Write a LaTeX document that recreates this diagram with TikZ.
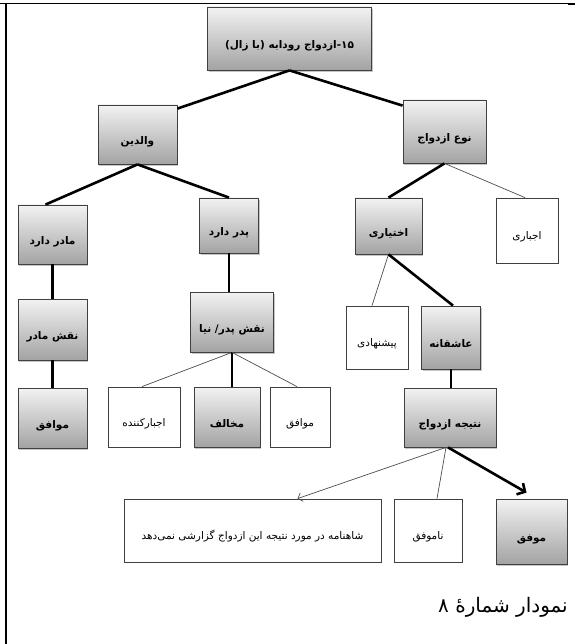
\documentclass[tikz,border=0pt]{standalone}
\usepackage{fontspec}
\usetikzlibrary{arrows.meta,shadows,calc}
\TeXXeTstate=1
\newfontfamily\fa[Script=Arabic]{DejaVu Sans}
\newcommand\rtl[1]{{\fa\beginR #1\endR}}
\tikzset{
  graybox/.style={draw=black!75, line width=0.8pt, top color=black!5, bottom color=black!36,
    drop shadow={shadow xshift=1.2pt, shadow yshift=-1.8pt, opacity=0.45},
    font=\fa\bfseries\fontsize{10.5}{12}\selectfont, inner sep=1pt, text height=20pt, text depth=0pt},
  whitebox/.style={draw=black!75, line width=0.8pt, fill=white,
    drop shadow={shadow xshift=0.8pt, shadow yshift=-1.2pt, opacity=0.15},
    font=\fa\fontsize{10.5}{12}\selectfont, inner sep=1pt, text height=18pt, text depth=0pt},
  thicklink/.style={line width=2.6pt, black},
  thinlink/.style={line width=0.7pt, black!70},
}
\begin{document}
\begin{tikzpicture}[x=1pt,y=-1pt]
\useasboundingbox (0,0) rectangle (575,644);
% page frame lines
\draw[line width=1.2pt] (0,3.5) -- (575,3.5);
\draw[line width=2pt] (5.5,3) -- (5.5,644);
\draw[line width=2.5pt] (568,4) -- (575,4);

\node[graybox, minimum width=164pt, minimum height=63pt] (root) at (289.5,38.5)
  {\rtl{۱۵-ازدواج رودابه (با زال)}};
\node[graybox, minimum width=79pt, minimum height=59pt] (walidin) at (137.5,134.5) {\rtl{والدین}};
\node[graybox, minimum width=83pt, minimum height=63pt] (now) at (444.5,131.5) {\rtl{نوع ازدواج}};
\node[graybox, minimum width=69pt, minimum height=59pt] (madar) at (52.5,234.5) {\rtl{مادر دارد}};
\node[graybox, minimum width=59pt, minimum height=55pt] (pedar) at (229,225.5) {\rtl{پدر دارد}};
\node[graybox, minimum width=67pt, minimum height=56pt] (ekhtiari) at (388.5,226) {\rtl{اختیاری}};
\node[whitebox, minimum width=62pt, minimum height=65pt] (ejbari) at (527,230.5) {\rtl{اجباری}};
\node[graybox, minimum width=69pt, minimum height=61pt] (naqshmadar) at (52.5,329.5) {\rtl{نقش مادر}};
\node[graybox, minimum width=83pt, minimum height=60pt] (naqshpedar) at (232,322) {\rtl{نقش پدر/ نیا}};
\node[whitebox, minimum width=62pt, minimum height=63pt] (pishnahadi) at (377,337.5) {\rtl{پیشنهادی}};
\node[graybox, minimum width=59pt, minimum height=63pt] (asheqane) at (451,337.5) {\rtl{عاشقانه}};
\node[graybox, minimum width=69pt, minimum height=60pt] (movafeqA) at (52.5,418) {\rtl{موافق}};
\node[whitebox, minimum width=72pt, minimum height=60pt] (ejbarkonande) at (144,417) {\rtl{اجبارکننده}};
\node[graybox, minimum width=66pt, minimum height=60pt] (mokhalef) at (227,417) {\rtl{مخالف}};
\node[whitebox, minimum width=60pt, minimum height=60pt] (movafeqB) at (300,417) {\rtl{موافق}};
\node[graybox, minimum width=92pt, minimum height=59pt] (natije) at (450,417.5) {\rtl{نتیجه ازدواج}};
\node[whitebox, minimum width=257pt, minimum height=63pt] (shahname) at (252.5,530.5)
  {\rtl{شاهنامه در مورد نتیجه این ازدواج گزارشی نمی‌دهد}};
\node[whitebox, minimum width=68pt, minimum height=63pt] (namovafeq) at (428,530.5) {\rtl{ناموفق}};
\node[graybox, minimum width=71pt, minimum height=65pt] (movafeqC) at (531.5,531.5) {\rtl{موفق}};

\node[anchor=base east, inner sep=0pt, font=\fa\fontsize{20}{24}\selectfont] (caption) at (568,612)
  {\rtl{نمودار شمارهٔ ۸}};

% connectors
\draw[thicklink] (root.south) -- ($(walidin.north east)+(0,4)$);
\draw[thicklink] (root.south) -- ($(now.north west)+(0,6)$);
\draw[thicklink] (walidin.south) -- ($(madar.north)+(-7,0)$);
\draw[thicklink] (walidin.south) -- (pedar.north);
\draw[thicklink] (now.south) -- (ekhtiari.north);
\draw[thinlink] (now.south) -- ($(ejbari.north)+(-2,0)$);
\draw[thicklink] (madar.south) -- (naqshmadar.north);
\draw[thicklink] (naqshmadar.south) -- (movafeqA.north);
\draw[thicklink] (pedar.south) -- (pedar.south |- naqshpedar.north);
\draw[thinlink] (naqshpedar.south) -- ($(ejbarkonande.north)+(-2,0)$);
\draw[thicklink] (naqshpedar.south) -- (naqshpedar.south |- mokhalef.north);
\draw[thinlink] (naqshpedar.south) -- ($(movafeqB.north)+(-3,0)$);
\draw[thinlink] (ekhtiari.south) -- ($(pishnahadi.north)+(-5,0)$);
\draw[thicklink] (ekhtiari.south) -- ($(asheqane.north)+(2,0)$);
\draw[thicklink] (asheqane.south) -- (asheqane.south |- natije.north);
\draw[thinlink, -{Straight Barb[length=4pt,width=9pt,line width=0.7pt]}] ($(natije.south)+(-4,0)$) -- ($(shahname.north)+(45,0)$);
\draw[thinlink] ($(natije.south)+(-4,0)$) -- ($(namovafeq.north)+(9,0)$);
\draw[thicklink, -{Straight Barb[length=6pt,width=13pt]}] ($(natije.south)+(-2,0)$) -- ($(movafeqC.north)+(-5,-6)$);
\end{tikzpicture}
\end{document}
